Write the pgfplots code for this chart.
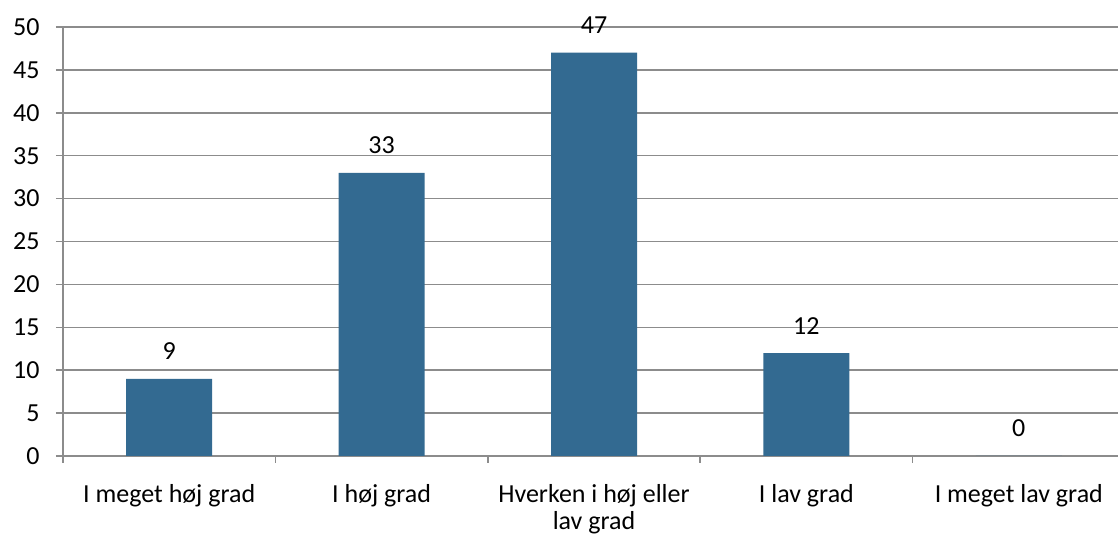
\documentclass[border=0pt]{standalone}
\usepackage{fontspec}
\setmainfont{Carlito}
\usepackage{pgfplots}
\pgfplotsset{compat=1.18}
\definecolor{barblue}{HTML}{336A91}
\definecolor{gridgray}{HTML}{8C8C8C}
\begin{document}
\begin{tikzpicture}[font=\fontsize{13}{13.5}\selectfont]
\begin{axis}[
  at={(0,0)}, anchor=south west,
  scale only axis, width=531pt, height=214.5pt,
  xmin=-0.5, xmax=4.5, ymin=0, ymax=50,
  ytick={0,5,...,50},
  xtick={-0.5,0.5,1.5,2.5,3.5,4.5},
  x tick label as interval,
  xticklabels={I meget høj grad, I høj grad, {Hverken i høj eller\\lav grad}, I lav grad, I meget lav grad},
  ymajorgrids, major grid style={gridgray, line width=0.75pt},
  axis x line*=bottom, axis y line*=left,
  axis line style={gridgray, line width=0.75pt},
  tick style={gridgray, line width=0.75pt},
  major tick length=3.5pt, tick align=outside,
  /pgf/number format/assume math mode=true,
  ticklabel style={font=\fontsize{13}{13.5}\selectfont, text=black},
  yticklabel style={xshift=-4.7pt},
  xticklabel style={align=center, yshift=-7pt},
  ybar, bar width=43pt,
  nodes near coords,
  nodes near coords style={anchor=base, yshift=9.5pt, text=black, font=\fontsize{13}{13.5}\selectfont},
]
\addplot[fill=barblue, draw=none] coordinates {(0,9) (1,33) (2,47) (3,12) (4,0)};
\end{axis}
\pgfresetboundingbox
\path[use as bounding box] (-31.5pt,-39pt) rectangle (527.5pt,228pt);
\end{tikzpicture}
\end{document}
